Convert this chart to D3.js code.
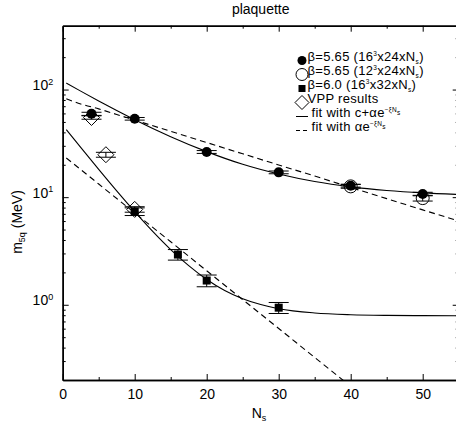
<!DOCTYPE html>
<html>
<head>
<meta charset="utf-8">
<script src="https://cdn.jsdelivr.net/npm/d3@7"></script>
<style>
body { margin: 0; background: #fff; }
svg { font-family: "Liberation Sans", Arial, sans-serif; }
</style>
</head>
<body>
<svg id="chart" width="456" height="426"></svg>
<script>
const w = 456;
const h = 426;
const plot = {left: 62.7, right: 458.7, top: 25.7, bottom: 380};

// beta=5.65, 16^3x24xNs (filled circles)
const ns16 = [4, 10, 20, 30, 40, 50];
const m16 = [59.5, 53.5, 26.3, 17.0, 12.8, 10.7];
const e16 = [2.0, 1.5, 0.8, 0.5, 0.4, 0.4];
// beta=5.65, 12^3x24xNs (open circles)
const ns12 = [40, 50];
const m12 = [12.6, 9.8];
const e12 = [0.5, 0.6];
// beta=6.0, 16^3x32xNs (squares)
const ns60 = [10, 16, 20, 30];
const m60 = [7.35, 2.93, 1.68, 0.94];
const e60 = [0.6, 0.33, 0.21, 0.11];
// VPP results (diamonds)
const nsVpp = [4, 6, 10];
const mVpp = [55, 24.8, 7.7];
const eVpp = [2.0, 1.3, 0.45];

// fit curves
const fitN = [0.5, 2.5, 5, 7.5, 10, 15, 20, 25, 30, 35, 40, 45, 50, 55];
const fit565c = [114.9, 96.7, 78.4, 63.9, 52.5, 36.5, 26.5, 20.2, 16.4, 13.96, 12.46, 11.53, 10.95, 10.59];
const fit565e = [82.0, 73.5, 66.1, 58.7, 52.0, 40.9, 32.2, 25.3, 19.9, 15.7, 12.3, 9.69, 7.62, 6.0];
const fit60N = [0.5, 2.5, 5, 7.5, 10, 12.5, 15, 17.5, 20, 22.5, 25, 27.5, 30, 35, 40, 45, 50, 55];
const fit60c = [42.5, 29.04, 18.14, 11.45, 7.34, 4.81, 3.26, 2.31, 1.72, 1.36, 1.14, 1.006, 0.92, 0.84, 0.809, 0.797, 0.793, 0.791];
const fit60eN = [0.5, 5, 10, 15, 20, 25, 30, 35, 39];
const fit60e = [23.1, 13.25, 7.14, 3.85, 2.07, 1.117, 0.602, 0.324, 0.1976];

const xTicks = [0, 10, 20, 30, 40, 50];
const xMinor = [5, 15, 25, 35, 45, 55];
const yTicks = [1, 10, 100];
const yMinor = [0.2, 0.3, 0.4, 0.5, 0.6, 0.7, 0.8, 0.9, 2, 3, 4, 5, 6, 7, 8, 9, 20, 30, 40, 50, 60, 70, 80, 90, 200, 300];

const svg = d3.select("#chart");

const x = d3.scaleLinear().domain([0, 55]).range([plot.left, plot.right]);
const y = d3.scaleLog().domain([0.2, 392]).range([plot.bottom, plot.top]);

// rich text helper: parts = [[text, kind]] kind: null | "sup" | "sub" | "ssub"
function rich(sel, parts, small, supShift = -5.5) {
  let off = 0;
  parts.forEach(([t, k]) => {
    const target = k === "sup" ? supShift : k === "sub" ? 3 : k === "ssub" ? supShift + 2.5 : 0;
    sel.append("tspan")
       .attr("dy", target - off)
       .attr("font-size", k ? small : null)
       .text(t);
    off = target;
  });
}

svg.append("defs").append("clipPath").attr("id", "clip")
  .append("rect")
  .attr("x", plot.left).attr("y", plot.top)
  .attr("width", plot.right - plot.left).attr("height", plot.bottom - plot.top);

function axisGroup(axis, tx, ty) {
  const g = svg.append("g").attr("transform", `translate(${tx},${ty})`).call(axis);
  g.select(".domain").attr("stroke-width", 1.5);
  g.selectAll(".tick line").attr("stroke-width", 1);
  return g;
}

//x axes (bottom with labels, top ticks only)
const xb = axisGroup(d3.axisBottom(x).tickValues(xTicks).tickSize(-6).tickPadding(13).tickSizeOuter(0), 0, plot.bottom);
xb.selectAll("text").attr("font-size", 14).attr("font-family", null).attr("dy", "0.45em");
axisGroup(d3.axisBottom(x).tickValues(xMinor).tickSize(-3).tickFormat("").tickSizeOuter(0), 0, plot.bottom);
axisGroup(d3.axisTop(x).tickValues(xTicks).tickSize(-6).tickFormat("").tickSizeOuter(0), 0, plot.top);
axisGroup(d3.axisTop(x).tickValues(xMinor).tickSize(-3).tickFormat("").tickSizeOuter(0), 0, plot.top);

//y axes (left with labels, right ticks only)
const yl = axisGroup(d3.axisLeft(y).tickValues(yTicks).tickSize(-6).tickPadding(10).tickSizeOuter(0).tickFormat(""), plot.left, 0);
axisGroup(d3.axisLeft(y).tickValues(yMinor).tickSize(-3).tickFormat("").tickSizeOuter(0), plot.left, 0);
axisGroup(d3.axisRight(y).tickValues(yTicks).tickSize(-6).tickFormat("").tickSizeOuter(0), plot.right, 0);
axisGroup(d3.axisRight(y).tickValues(yMinor).tickSize(-3).tickFormat("").tickSizeOuter(0), plot.right, 0);

yl.selectAll(".tick").each(function(d) {
  const t = d3.select(this).append("text")
    .attr("x", -9.5).attr("dy", "0.36em")
    .attr("fill", "#000").attr("font-size", 14).attr("text-anchor", "end");
  rich(t, [["10", null], [String(Math.round(Math.log10(d))), "sup"]], 9);
});

// title and labels
svg.append("text").attr("x", (plot.left + plot.right) / 2).attr("y", 14)
   .attr("text-anchor", "middle").attr("font-size", 14).text("plaquette");

const xl = svg.append("text").attr("x", 259).attr("y", 418)
   .attr("text-anchor", "middle").attr("font-size", 14);
rich(xl, [["N", null], ["s", "sub"]], 9);

const ylab = svg.append("text").attr("transform", "translate(22,222) rotate(-90)")
   .attr("text-anchor", "middle").attr("font-size", 14);
rich(ylab, [["m", null], ["5q", "sub"], [" (MeV)", null]], 9);

// fit curves
const plotArea = svg.append("g").attr("clip-path", "url(#clip)");
const line = d3.line().x(d => x(d[0])).y(d => y(d[1])).curve(d3.curveMonotoneX);
const curves = [
  [fitN, fit565c, null],
  [fitN, fit565e, "6,4"],
  [fit60N, fit60c, null],
  [fit60eN, fit60e, "6,4"]
];
curves.forEach(([ns, ms, dash]) => {
  plotArea.append("path")
    .attr("d", line(ns.map((n, i) => [n, ms[i]])))
    .attr("fill", "none").attr("stroke", "#000").attr("stroke-width", 1.1)
    .attr("stroke-dasharray", dash);
});

// error bars
function errorBars(ns, ms, es) {
  const g = plotArea.append("g").attr("stroke", "#000").attr("stroke-width", 1);
  ns.forEach((n, i) => {
    const cx = x(n), lo = y(ms[i] - es[i]), hi = y(ms[i] + es[i]);
    g.append("line").attr("x1", cx).attr("x2", cx).attr("y1", lo).attr("y2", hi);
    g.append("line").attr("x1", cx - 10).attr("x2", cx + 10).attr("y1", lo).attr("y2", lo);
    g.append("line").attr("x1", cx - 10).attr("x2", cx + 10).attr("y1", hi).attr("y2", hi);
  });
}
errorBars(nsVpp, mVpp, eVpp);
errorBars(ns12, m12, e12);
errorBars(ns16, m16, e16);
errorBars(ns60, m60, e60);

const diamond = r => `M0,${-r}L${r},0L0,${r}L${-r},0Z`;

plotArea.selectAll(".vpp").data(nsVpp).join("path")
  .attr("transform", (d, i) => `translate(${x(d)},${y(mVpp[i])})`)
  .attr("d", diamond(8)).attr("fill", "none").attr("stroke", "#000").attr("stroke-width", 1);

plotArea.selectAll(".c12").data(ns12).join("circle")
  .attr("cx", d => x(d)).attr("cy", (d, i) => y(m12[i])).attr("r", 6.5)
  .attr("fill", "none").attr("stroke", "#000").attr("stroke-width", 1);

plotArea.selectAll(".c16").data(ns16).join("circle")
  .attr("cx", d => x(d)).attr("cy", (d, i) => y(m16[i])).attr("r", 5)
  .attr("fill", "#000");

plotArea.selectAll(".s60").data(ns60).join("rect")
  .attr("x", d => x(d) - 4).attr("y", (d, i) => y(m60[i]) - 4)
  .attr("width", 8).attr("height", 8).attr("fill", "#000");

// legend
const lx = 302, tx = 307.5, ly0 = 60.5, dly = 14;
const legend = svg.append("g").attr("font-size", 13).attr("letter-spacing", 0.3);
legend.append("circle").attr("cx", lx).attr("cy", ly0).attr("r", 4.5).attr("fill", "#000");
legend.append("circle").attr("cx", lx).attr("cy", ly0 + dly).attr("r", 6).attr("fill", "none").attr("stroke", "#000");
legend.append("rect").attr("x", lx - 3.5).attr("y", ly0 + 2 * dly - 3.5).attr("width", 7).attr("height", 7).attr("fill", "#000");
legend.append("path").attr("transform", `translate(${lx},${ly0 + 3 * dly})`).attr("d", diamond(7))
  .attr("fill", "none").attr("stroke", "#000");
legend.append("line").attr("x1", lx - 6).attr("x2", lx + 6).attr("y1", ly0 + 4 * dly).attr("y2", ly0 + 4 * dly)
  .attr("stroke", "#000");
legend.append("line").attr("x1", lx - 6).attr("x2", lx + 6).attr("y1", ly0 + 5 * dly).attr("y2", ly0 + 5 * dly)
  .attr("stroke", "#000").attr("stroke-dasharray", "4,3");

const legendTexts = [
  [["β=5.65 (16", null], ["3", "sup"], ["x24xN", null], ["s", "sub"], [")", null]],
  [["β=5.65 (12", null], ["3", "sup"], ["x24xN", null], ["s", "sub"], [")", null]],
  [["β=6.0 (16", null], ["3", "sup"], ["x32xN", null], ["s", "sub"], [")", null]],
  [["VPP results", null]],
  [["fit with c+αe", null], ["−ξN", "sup"], ["s", "ssub"]],
  [["fit with αe", null], ["−ξN", "sup"], ["s", "ssub"]]
];
legendTexts.forEach((parts, i) => {
  const t = legend.append("text").attr("x", i >= 4 ? tx + 4 : tx).attr("y", ly0 + i * dly).attr("dy", "0.36em");
  rich(t, parts, 6.5, -4.5);
});
</script>
</body>
</html>
